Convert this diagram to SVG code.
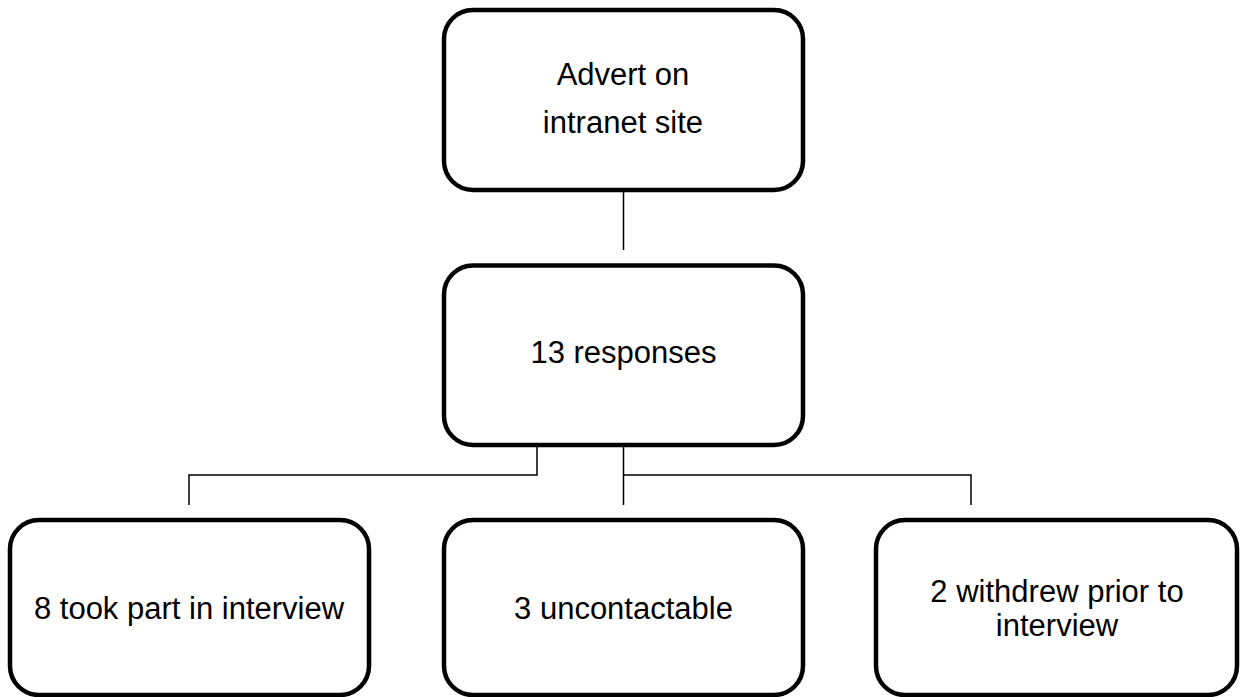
<svg xmlns="http://www.w3.org/2000/svg" width="1248" height="697" viewBox="0 0 1248 697">
<style>
.box{fill:#fff;stroke:#000;stroke-width:4.5}
.lbl{font-family:"Liberation Sans",Arial,sans-serif;font-size:31px;fill:#000;text-anchor:middle}
.conn{fill:none;stroke:#000;stroke-width:1.5}
</style>
<rect width="1248" height="697" fill="#fff"/>
<g id="connectors">
<path class="conn" d="M623.5,190 V250"/>
<path class="conn" d="M537,445 V475 H189 V505"/>
<path class="conn" d="M623.5,445 V505"/>
<path class="conn" d="M623.5,475 H971 V505"/>
</g>
<g id="advert">
<rect class="box" x="444" y="10" width="359" height="180" rx="29" ry="29"/>
<text class="lbl" x="623" y="85">Advert on</text>
<text class="lbl" x="623" y="133">intranet site</text>
</g>
<g id="responses">
<rect class="box" x="444" y="265.5" width="359" height="179.5" rx="29" ry="29"/>
<text class="lbl" x="623.5" y="363">13 responses</text>
</g>
<g id="took-part">
<rect class="box" x="10" y="520" width="359" height="175" rx="29" ry="29"/>
<text class="lbl" x="189" y="619">8 took part in interview</text>
</g>
<g id="uncontactable">
<rect class="box" x="444" y="520" width="359" height="175" rx="29" ry="29"/>
<text class="lbl" x="623.5" y="619">3 uncontactable</text>
</g>
<g id="withdrew">
<rect class="box" x="876" y="520" width="361" height="175" rx="29" ry="29"/>
<text class="lbl" x="1057" y="602">2 withdrew prior to</text>
<text class="lbl" x="1057" y="636">interview</text>
</g>
</svg>
